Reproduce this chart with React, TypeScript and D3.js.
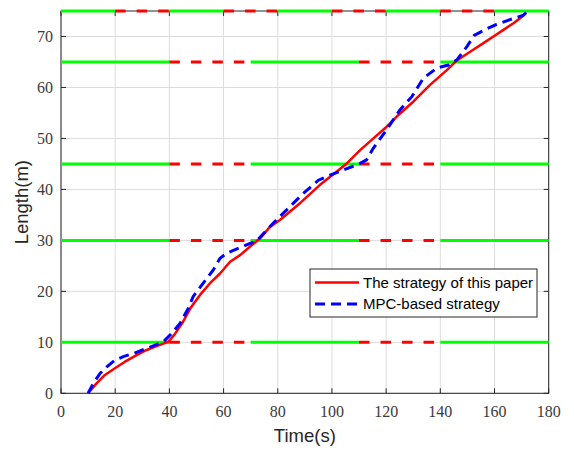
import React from "react";
import * as d3 from "d3";

const xTicks = [0, 20, 40, 60, 80, 100, 120, 140, 160, 180];
const yTicks = [0, 10, 20, 30, 40, 50, 60, 70];

const signalLevels = [10, 30, 45, 65];
const greenPhases: [number, number][] = [[0, 40], [70, 110], [140, 180]];
const redPhases: [number, number][] = [[40, 70], [110, 140]];
const topLevel = 75;
const topGreen: [number, number][] = [[0, 20], [40, 60], [80, 100], [120, 140], [160, 180]];
const topRed: [number, number][] = [[20, 40], [60, 80], [100, 120], [140, 160]];

const redT = [10, 13.2, 16.2, 19.9, 23.6, 27.9, 31.6, 36.5, 39.6, 42, 45, 48, 51.3, 55, 58.7, 62.4, 66.1, 69.8, 73.5, 77.2, 80.8, 88.2, 95.6, 101.8, 105.5, 110.4, 115.3, 120.2, 123.9, 130, 136.2, 142.4, 146.1, 151, 155.9, 159.6, 163, 167, 170, 171.5];
const redL = [0, 2, 3.6, 4.9, 6.2, 7.5, 8.5, 9.5, 10.1, 11.6, 14, 16.9, 19.3, 21.6, 23.5, 25.8, 27.1, 28.8, 30.4, 32.7, 34, 37.3, 40.9, 43.5, 45.1, 47.7, 50, 52.3, 54.3, 57.2, 60.5, 63.4, 65.3, 67, 68.7, 70, 71.2, 72.6, 73.8, 74.6];

const blueT = [10, 12, 14.4, 16.9, 19.9, 23, 26.7, 31.6, 35, 37.8, 40.9, 43.9, 47, 48.8, 52.5, 56.2, 58.7, 61.2, 66.1, 69.8, 72.2, 75, 78.4, 83.9, 89.4, 95, 99.3, 104.2, 110.4, 112.8, 115.3, 120.2, 125.1, 129.5, 133.7, 138.7, 143, 146.1, 149.8, 152.5, 157, 160.5, 165.7, 170.7, 171.9];
const blueL = [0, 2, 3.9, 5.2, 6.5, 7.2, 7.8, 8.8, 9.5, 10.1, 11.8, 13.7, 16.7, 19, 21.6, 24.2, 26.5, 27.5, 28.6, 29.4, 29.9, 31.5, 33.4, 36.3, 39.2, 41.8, 42.8, 43.8, 45.1, 45.8, 48.1, 51.7, 55.6, 58.2, 61.8, 63.8, 64.4, 65.4, 68, 70.2, 71.5, 72.3, 73.3, 74.2, 74.8];

const legendLabels = ["The strategy of this paper", "MPC-based strategy"];

const W = 574, H = 453;
const left = 61, right = 548.7, top = 11, bottom = 393.3;

export default function App() {
  const x = d3.scaleLinear().domain([0, 180]).range([left, right]);
  const y = d3.scaleLinear().domain([0, 75]).range([bottom, top]);
  const line = d3.line<[number, number]>().x(d => x(d[0])).y(d => y(d[1]));
  const redPts = redT.map((t, i) => [t, redL[i]] as [number, number]);
  const bluePts = blueT.map((t, i) => [t, blueL[i]] as [number, number]);
  const axisColor = "#262626";
  const tickColor = "#3a3a3a";
  const tickFont = "'Liberation Serif', 'Times New Roman', serif";
  const sans = "'Liberation Sans', Arial, sans-serif";

  const segs: { lvl: number; a: number; b: number; c: string }[] = [];
  signalLevels.forEach(l => {
    greenPhases.forEach(p => segs.push({ lvl: l, a: p[0], b: p[1], c: "g" }));
    redPhases.forEach(p => segs.push({ lvl: l, a: p[0], b: p[1], c: "r" }));
  });
  topGreen.forEach(p => segs.push({ lvl: topLevel, a: p[0], b: p[1], c: "g" }));
  topRed.forEach(p => segs.push({ lvl: topLevel, a: p[0], b: p[1], c: "r" }));

  return (
    <svg width={W} height={H} style={{ position: "absolute", left: 0, top: 0, background: "#fff" }}>
      <rect x={0} y={0} width={W} height={H} fill="#fff" />
      {xTicks.map(t => (
        <line key={"gx" + t} x1={x(t)} x2={x(t)} y1={top} y2={bottom} stroke="#dcdcdc" strokeWidth={1} />
      ))}
      {yTicks.map(t => (
        <line key={"gy" + t} x1={left} x2={right} y1={y(t)} y2={y(t)} stroke="#dcdcdc" strokeWidth={1} />
      ))}
      <rect x={left} y={top} width={right - left} height={bottom - top} fill="none" stroke={axisColor} strokeWidth={1} />
      {xTicks.map(t => (
        <g key={"tx" + t}>
          <line x1={x(t)} x2={x(t)} y1={bottom} y2={bottom - 5} stroke={axisColor} />
          <line x1={x(t)} x2={x(t)} y1={top} y2={top + 5} stroke={axisColor} />
          <text x={x(t)} y={417} textAnchor="middle" fontFamily={tickFont} fontSize={16} fill={tickColor}>{t}</text>
        </g>
      ))}
      {yTicks.map(t => (
        <g key={"ty" + t}>
          <line x1={left} x2={left + 5} y1={y(t)} y2={y(t)} stroke={axisColor} />
          <line x1={right} x2={right - 5} y1={y(t)} y2={y(t)} stroke={axisColor} />
          <text x={53} y={y(t)} dy="0.35em" textAnchor="end" fontFamily={tickFont} fontSize={16} fill={tickColor}>{t}</text>
        </g>
      ))}
      {segs.map((s, i) => (
        <line key={"s" + i} x1={x(s.a)} x2={x(s.b)} y1={y(s.lvl)} y2={y(s.lvl)}
          stroke={s.c === "g" ? "#00ff00" : "#ff0000"} strokeWidth={3}
          strokeDasharray={s.c === "r" ? "10.5,11" : undefined} />
      ))}
      <path d={line(redPts) || ""} fill="none" stroke="#ff0000" strokeWidth={2.5} strokeLinejoin="round" />
      <path d={line(bluePts) || ""} fill="none" stroke="#0000ff" strokeWidth={3} strokeDasharray="10,6" />
      <text x={(left + right) / 2} y={441.5} textAnchor="middle" fontFamily={sans} fontSize={18.5} fill={axisColor}>Time(s)</text>
      <text transform={`translate(28,${(top + bottom) / 2}) rotate(-90)`} textAnchor="middle" fontFamily={sans} fontSize={18.5} fill={axisColor}>Length(m)</text>
      <rect x={310} y={269} width={227} height={48} fill="#fff" stroke={axisColor} strokeWidth={1} />
      <line x1={315} x2={359} y1={282.5} y2={282.5} stroke="#ff0000" strokeWidth={2.5} />
      <line x1={315} x2={359} y1={304} y2={304} stroke="#0000ff" strokeWidth={3} strokeDasharray="10,6" />
      <text x={363} y={282.5} dy="0.35em" fontFamily={sans} fontSize={15} fill="#000">{legendLabels[0]}</text>
      <text x={363} y={304} dy="0.35em" fontFamily={sans} fontSize={15} fill="#000">{legendLabels[1]}</text>
    </svg>
  );
}
